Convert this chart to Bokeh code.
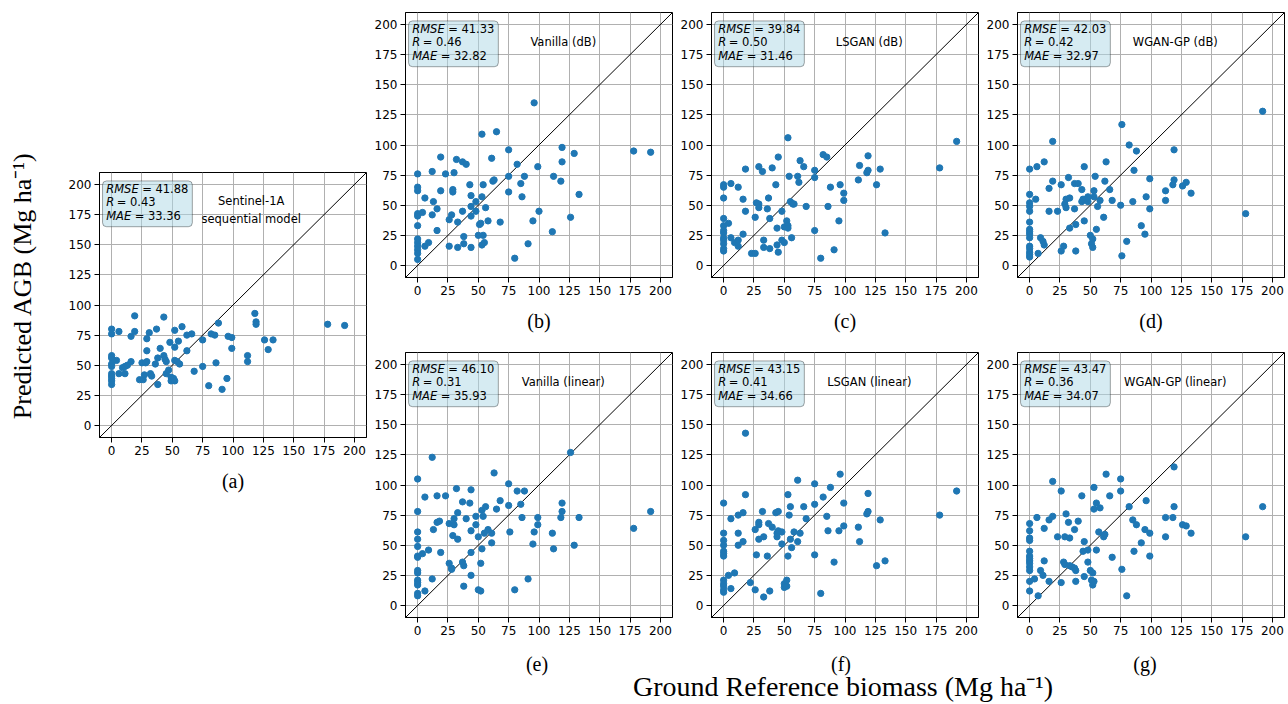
import numpy as np
from bokeh.plotting import figure
from bokeh.layouts import row, column
from bokeh.models import Spacer, Label, BoxAnnotation, FixedTicker, Range1d
from bokeh.embed import file_html
from bokeh.resources import INLINE

# ---------------- data ----------------
ticks = [0, 25, 50, 75, 100, 125, 150, 175, 200]
lims = [-10, 210]

names = ["Vanilla (dB)", "LSGAN (dB)", "WGAN-GP (dB)",
         "Vanilla (linear)", "LSGAN (linear)", "WGAN-GP (linear)"]
name_a = ["Sentinel-1A", "sequential model"]
captions = ["(a)", "(b)", "(c)", "(d)", "(e)", "(f)", "(g)"]
rmse = [41.88, 41.33, 39.84, 42.03, 46.10, 43.15, 43.47]
rval = [0.43, 0.46, 0.50, 0.42, 0.31, 0.41, 0.36]
mae = [33.36, 32.82, 31.46, 32.97, 35.93, 34.66, 34.07]
x_title = "Ground Reference biomass (Mg ha\u207b\u00b9)"
y_title = "Predicted AGB (Mg ha\u207b\u00b9)"

pts_a = [(0,80),(0,76),(0,58),(0,56),(0,51),(0,49),(0,43),(0,41),(0,39),(0,37),(0,34),
 (6,78),(4,54),(6,43),(9,48),(11,49),(13,50),(11,43),(16,74),(16,53),(19,91),(19,78),(23,38),
 (25,52),(26,38),(27,42),(28,52),(29,72),(29,62),(29,53),(31,77),(32,43),(33,41),(36,51),(37,80),
 (38,56),(38,34),(40,64),(43,90),(43,58),(44,55),(45,53),(45,43),(48,69),(47,46),(49,40),(49,37),
 (51,39),(52,37),(52,79),(52,65),(52,54),(55,70),(54,53),(56,51),(58,82),(62,75),(62,62),(66,76),
 (68,45),(75,71),(75,49),(80,33),(82,76),(85,75),(86,52),(88,85),(91,30),(95,39),(96,74),(99,73),
 (99,64),(112,58),(112,53),(118,93),(119,86),(119,84),(126,71),(129,63),(133,71),(178,84),(192,83)]

pts_b = [(0,76),(0,65),(0,62),(0,43),(0,41),(0,33),(0,22),(0,19),(0,16),(0,13),(0,10),(0,5),
 (4,44),(6,56),(6,16),(9,19),(12,78),(13,53),(12,42),(16,47),(16,29),(19,90),(19,62),(23,76),
 (26,38),(26,16),(28,42),(29,63),(29,61),(30,77),(32,88),(33,36),(33,15),(37,45),(37,86),(38,24),
 (38,18),(40,84),(43,67),(44,49),(44,15),(44,58),(44,41),(48,45),(48,53),(50,25),(51,34),(52,35),
 (53,17),(53,109),(53,57),(54,25),(54,67),(55,19),(56,48),(58,37),(61,89),(62,70),(63,71),(65,111),
 (68,36),(75,96),(75,74),(75,61),(80,6),(82,84),(85,68),(86,57),(88,74),(91,18),(95,37),(96,135),
 (99,82),(100,45),(111,28),(112,74),(118,70),(119,98),(119,86),(126,40),(129,93),(133,59),(178,95),(192,94)]

pts_c = [(0,67),(0,65),(0,56),(0,39),(0,33),(0,29),(0,27),(0,23),(0,21),(0,18),(0,14),(0,12),
 (4,35),(6,68),(6,23),(9,19),(12,21),(12,16),(12,65),(16,55),(16,26),(18,80),(18,45),(23,10),
 (26,10),(26,40),(27,52),(29,51),(29,48),(29,82),(32,78),(33,21),(33,15),(36,47),(37,56),(38,39),
 (38,14),(40,81),(43,67),(44,31),(44,17),(45,90),(45,11),(48,21),(48,45),(50,19),(50,32),(52,37),
 (53,33),(53,31),(53,106),(54,74),(55,53),(57,51),(56,23),(58,51),(61,74),(62,69),(63,87),(66,82),
 (68,49),(75,79),(75,73),(75,29),(80,6),(82,92),(85,90),(86,49),(88,65),(91,13),(95,37),(96,67),
 (99,60),(99,54),(112,83),(111,71),(118,77),(119,91),(119,79),(126,67),(129,80),(133,27),(178,81),(192,103)]

pts_d = [(0,80),(0,59),(0,52),(0,49),(0,45),(0,36),(0,30),(0,28),(0,26),(0,23),(0,16),(0,14),(0,11),(0,9),(0,7),
 (6,82),(5,55),(7,10),(9,23),(11,20),(12,17),(12,86),(16,45),(16,64),(19,103),(19,70),(23,45),
 (26,67),(26,12),(28,16),(29,51),(30,55),(30,48),(32,73),(33,56),(33,31),(37,47),(37,68),(38,34),
 (38,12),(40,68),(43,63),(43,53),(44,55),(45,37),(45,82),(48,53),(48,57),(50,25),(51,18),(52,15),
 (52,22),(53,57),(53,62),(54,74),(55,30),(56,49),(58,54),(61,40),(62,70),(63,86),(66,63),(68,54),
 (75,50),(76,117),(76,8),(80,20),(82,100),(85,53),(86,79),(88,95),(92,33),(95,26),(96,57),(99,72),
 (99,47),(112,54),(112,62),(118,67),(119,71),(119,96),(126,66),(129,69),(133,60),(178,43),(192,128)]

pts_e = [(0,105),(0,78),(0,61),(0,55),(0,49),(0,41),(0,40),(0,29),(0,27),(0,21),(0,19),(0,17),(0,10),(0,8),
 (4,43),(6,90),(6,12),(9,46),(12,22),(12,123),(13,63),(16,91),(16,69),(18,70),(19,44),(23,91),
 (26,68),(26,35),(28,31),(28,30),(29,58),(30,67),(30,72),(32,97),(33,77),(33,55),(37,36),(37,86),
 (38,33),(38,16),(40,72),(43,85),(44,96),(44,44),(44,62),(44,25),(48,74),(48,67),(50,13),(50,57),
 (52,35),(52,12),(53,47),(53,79),(54,74),(55,60),(56,82),(58,63),(61,60),(61,52),(63,110),(65,80),
 (68,87),(75,101),(75,83),(76,61),(80,13),(82,95),(85,84),(86,73),(88,95),(91,22),(95,51),(96,61),
 (99,73),(99,67),(111,60),(112,47),(118,73),(119,78),(119,85),(126,127),(129,50),(133,73),(178,64),(192,78)]

pts_f = [(0,85),(0,60),(0,54),(0,50),(0,45),(0,43),(0,41),(0,21),(0,18),(0,16),(0,13),(0,11),
 (4,25),(6,72),(6,14),(9,27),(12,50),(12,60),(12,75),(16,77),(16,53),(18,143),(18,92),(22,19),
 (26,63),(26,13),(27,42),(29,69),(29,67),(29,55),(32,78),(33,57),(33,7),(36,41),(37,68),(38,12),
 (40,65),(43,77),(44,57),(44,60),(45,78),(45,62),(48,61),(48,51),(50,15),(50,18),(52,21),(52,16),
 (53,41),(53,92),(54,75),(55,82),(55,55),(56,48),(58,61),(61,53),(61,104),(63,60),(66,82),(68,72),
 (75,101),(75,84),(75,42),(80,10),(82,90),(85,74),(86,62),(88,98),(91,36),(95,62),(96,109),(99,85),
 (99,66),(111,65),(112,53),(118,76),(119,78),(119,93),(126,33),(129,71),(133,37),(178,75),(192,95)]

pts_g = [(0,68),(0,62),(0,56),(0,54),(0,45),(0,41),(0,39),(0,37),(0,35),(0,32),(0,29),(0,20),(0,12),
 (6,73),(4,22),(7,8),(9,29),(11,25),(12,64),(12,37),(16,71),(16,20),(19,74),(19,103),(23,57),
 (26,95),(26,19),(28,36),(29,34),(29,57),(30,76),(32,69),(33,56),(33,33),(35,32),(37,31),(37,63),
 (38,29),(38,20),(40,70),(43,91),(44,45),(45,53),(45,24),(48,36),(48,46),(50,29),(51,21),(52,17),
 (52,27),(53,20),(53,98),(53,80),(55,85),(55,46),(57,61),(58,81),(61,57),(62,59),(63,109),(66,91),
 (68,40),(75,105),(75,95),(76,30),(80,8),(82,82),(85,71),(86,45),(88,67),(92,52),(95,63),(96,87),
 (99,60),(99,41),(112,73),(112,57),(118,73),(119,82),(119,115),(126,67),(129,66),(133,60),(178,57),(192,82)]

panel_points = [pts_a, pts_b, pts_c, pts_d, pts_e, pts_f, pts_g]

# ---------------- styling ----------------
TICK_FONT = "DejaVu Sans"
SERIF = "Liberation Serif"
FW, FH = 267, 265


def make_panel(i, left, right, top, bottom, caption):
    p = figure(frame_width=FW, frame_height=FH,
               x_range=Range1d(lims[0], lims[1]), y_range=Range1d(lims[0], lims[1]),
               min_border_left=left, min_border_right=right,
               min_border_top=top, min_border_bottom=bottom,
               output_backend="svg", toolbar_location=None)
    p.outline_line_color = "black"
    p.outline_line_alpha = 1
    p.outline_line_width = 1
    for ax in (p.xaxis[0], p.yaxis[0]):
        ax.ticker = FixedTicker(ticks=ticks)
        ax.major_tick_out = 5
        ax.major_tick_in = 0
        ax.minor_tick_line_color = None
        ax.major_tick_line_color = "black"
        ax.axis_line_color = "black"
        ax.major_label_text_font = TICK_FONT
        ax.major_label_text_font_size = "12px"
        ax.major_label_text_color = "black"
        ax.major_label_standoff = 3
    p.grid.grid_line_color = "#b0b0b0"
    p.grid.grid_line_width = 1
    p.xgrid.ticker = FixedTicker(ticks=ticks)
    p.ygrid.ticker = FixedTicker(ticks=ticks)
    if caption:
        p.xaxis.axis_label = captions[i]
        p.xaxis.axis_label_text_font = SERIF
        p.xaxis.axis_label_text_font_style = "normal"
        p.xaxis.axis_label_text_font_size = "20px"
        p.xaxis.axis_label_text_color = "black"
        p.xaxis.axis_label_standoff = 12

    # 1:1 line over the axis limits
    p.line(lims, lims, line_color="black", line_width=1)

    pts = panel_points[i]
    xs = [q[0] for q in pts]
    ys = [q[1] for q in pts]
    p.scatter(xs, ys, size=6.3, fill_color="#1f77b4", line_color="#1f77b4")

    # stats box
    p.add_layout(BoxAnnotation(left=-7.5, right=66.5, bottom=165, top=203,
                               fill_color="#add8e6", fill_alpha=0.5,
                               line_color="black", line_alpha=0.35, line_width=1,
                               border_radius=4, level="annotation"))
    rows = [("RMSE", "= %.2f" % rmse[i], 36, 196.7),
            ("R", "= %.2f" % rval[i], 10.5, 185.6),
            ("MAE", "= %.2f" % mae[i], 28.5, 173.9)]
    for key, val, off, yy in rows:
        p.add_layout(Label(x=-4.5, y=yy, text=key, text_font=TICK_FONT,
                           text_font_style="italic", text_font_size="11.5px",
                           text_baseline="middle", text_align="left", text_color="black"))
        p.add_layout(Label(x=-4.5, y=yy, x_offset=off, text=val, text_font=TICK_FONT,
                           text_font_size="11.5px", text_baseline="middle",
                           text_align="left", text_color="black"))
    if i == 0:
        for txt, yy in zip(name_a, [186, 171]):
            p.add_layout(Label(x=115, y=yy, text=txt, text_font=TICK_FONT,
                               text_font_size="11.5px", text_align="center",
                               text_baseline="middle", text_color="black"))
    else:
        p.add_layout(Label(x=120, y=185.6, text=names[i - 1], text_font=TICK_FONT,
                           text_font_size="11.5px", text_align="center",
                           text_baseline="middle", text_color="black"))
    return p


pa = make_panel(0, 35, 5, 4, 71, True)
pb = make_panel(1, 32, 5, 12, 71, True)
pc = make_panel(2, 32, 5, 12, 71, True)
pd = make_panel(3, 32, 4, 12, 71, True)
pe = make_panel(4, 32, 5, 4, 26, False)
pf = make_panel(5, 32, 5, 4, 26, False)
pg = make_panel(6, 32, 4, 4, 26, False)

TOTAL_H = 703
# global y label
YW = 64
ylab = figure(width=YW, height=TOTAL_H, x_range=Range1d(0, YW), y_range=Range1d(0, TOTAL_H),
              min_border=0, x_axis_type=None, y_axis_type=None,
              output_backend="svg", toolbar_location=None)
ylab.outline_line_color = None
ylab.add_layout(Label(x=22, y=TOTAL_H - 285, text=y_title, angle=np.pi / 2,
                      text_font=SERIF, text_font_size="26px", text_align="center",
                      text_baseline="middle", text_color="black"))

# bottom strip: captions of lower row + global x label
W_B, W_C, W_D = 32 + FW + 5, 32 + FW + 5, 32 + FW + 4
XW, XH = W_B + W_C + W_D, 60
xlab = figure(width=XW, height=XH, x_range=Range1d(0, XW), y_range=Range1d(0, XH),
              min_border=0, x_axis_type=None, y_axis_type=None,
              output_backend="svg", toolbar_location=None)
xlab.outline_line_color = None
cap_x = [32 + FW / 2, W_B + 32 + FW / 2, W_B + W_C + 32 + FW / 2]
for cap, cx in zip(captions[4:], cap_x):
    xlab.add_layout(Label(x=cx, y=XH - 20, text=cap, text_font=SERIF, text_font_size="20px",
                          text_align="center", text_baseline="middle", text_color="black"))
xlab.add_layout(Label(x=cap_x[1] + 2, y=XH - 43, text=x_title, text_font=SERIF,
                      text_font_size="28px", text_align="center",
                      text_baseline="middle", text_color="black"))

col_a = column(Spacer(width=35 + FW + 5, height=168), pa)
right = column(row(pb, pc, pd), row(pe, pf, pg), xlab)
layout = row(ylab, col_a, right)

open("out.html", "w").write(file_html(layout, INLINE))
